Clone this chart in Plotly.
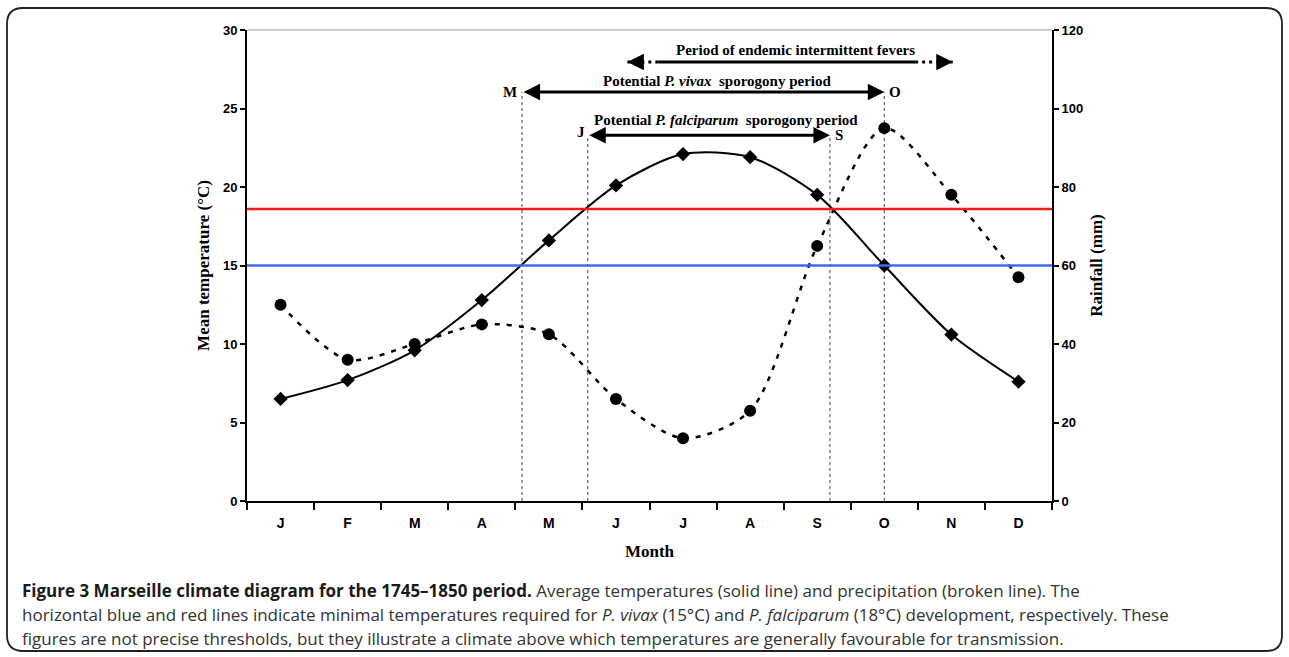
import plotly.graph_objects as go

# ---------------- data ----------------
months = ["J", "F", "M", "A", "M", "J", "J", "A", "S", "O", "N", "D"]
month_index = list(range(12))
temperature_c = [6.5, 7.7, 9.6, 12.8, 16.6, 20.1, 22.1, 21.9, 19.5, 15.0, 10.6, 7.6]
rainfall_mm = [50, 36, 40, 45, 42.5, 26, 16, 23, 65, 95, 78, 57]

vivax_threshold = 15.0
falciparum_threshold = 18.6

# period bounds, in month-index units (threshold crossings)
vivax_period = [3.6, 9.0]          # M ... O
falciparum_period = [4.58, 8.19]   # J ... S
fever_period_solid = [5.63, 9.46]
fever_period_full = [5.17, 10.02]

vivax_arrow_y = 26.05
falciparum_arrow_y = 23.3
fever_arrow_y = 27.96

# ---------------- geometry ----------------
W, H = 1289, 657
L, R, T, B = 247, 1052, 30, 501
pw, ph = R - L, B - T


def px(x):
    return (x - L) / pw


def py(y):
    return (B - y) / ph


fig = go.Figure()

# vertical dotted lines
for xv, top in [(vivax_period[0], vivax_arrow_y), (vivax_period[1], vivax_arrow_y),
                (falciparum_period[0], falciparum_arrow_y), (falciparum_period[1], falciparum_arrow_y)]:
    fig.add_trace(go.Scatter(x=[xv, xv], y=[0, top], mode="lines",
                             line=dict(color="#444", width=1, dash="dot"),
                             hoverinfo="skip", showlegend=False))

# temperature
fig.add_trace(go.Scatter(x=month_index, y=temperature_c, mode="lines+markers",
                         line=dict(color="black", width=2, shape="spline", smoothing=0.8),
                         marker=dict(symbol="diamond", size=11, color="black"),
                         name="Temperature", showlegend=False))

# rainfall
fig.add_trace(go.Scatter(x=month_index, y=rainfall_mm, mode="lines+markers", yaxis="y2",
                         line=dict(color="black", width=2.5, shape="spline", smoothing=0.8,
                                   dash="5px,7px"),
                         marker=dict(symbol="circle", size=12, color="black"),
                         name="Rainfall", showlegend=False))

# fevers arrow: dotted ends + solid middle
fig.add_trace(go.Scatter(x=[fever_period_full[0], fever_period_solid[0]],
                         y=[fever_arrow_y, fever_arrow_y], mode="lines",
                         line=dict(color="black", width=3, dash="3px,4px"),
                         hoverinfo="skip", showlegend=False))
fig.add_trace(go.Scatter(x=[fever_period_solid[1], fever_period_full[1]],
                         y=[fever_arrow_y, fever_arrow_y], mode="lines",
                         line=dict(color="black", width=3, dash="3px,4px"),
                         hoverinfo="skip", showlegend=False))
fig.add_trace(go.Scatter(x=fever_period_solid, y=[fever_arrow_y, fever_arrow_y], mode="lines",
                         line=dict(color="black", width=3),
                         hoverinfo="skip", showlegend=False))

# threshold lines
fig.add_shape(type="line", xref="paper", x0=0, x1=1, yref="y",
              y0=falciparum_threshold, y1=falciparum_threshold,
              line=dict(color="#ff1a1a", width=2.5))
fig.add_shape(type="line", xref="paper", x0=0, x1=1, yref="y",
              y0=vivax_threshold, y1=vivax_threshold,
              line=dict(color="#3a6cf0", width=2.5))
# top border of plot area (gray)
fig.add_shape(type="line", xref="paper", x0=0, x1=1, yref="paper", y0=1, y1=1,
              line=dict(color="#bbbbbb", width=1.5))

# outer rounded frame
x0, x1, y0, y1, r = px(7), px(1282), py(8), py(651), 16
rx, ry = r / pw, r / ph
path = (f"M {x0+rx},{y0} L {x1-rx},{y0} Q {x1},{y0} {x1},{y0-ry} "
        f"L {x1},{y1+ry} Q {x1},{y1} {x1-rx},{y1} L {x0+rx},{y1} "
        f"Q {x0},{y1} {x0},{y1+ry} L {x0},{y0-ry} Q {x0},{y0} {x0+rx},{y0} Z")
fig.add_shape(type="path", xref="paper", yref="paper", path=path,
              line=dict(color="#222", width=1.8))

serif = dict(family="Liberation Serif", size=15, color="black", weight="bold")
anns = []
# double arrows
for (a, b), yy in [(vivax_period, vivax_arrow_y), (falciparum_period, falciparum_arrow_y)]:
    anns.append(dict(x=b, y=yy, ax=a, ay=yy, xref="x", yref="y", axref="x", ayref="y",
                     showarrow=True, arrowhead=2, arrowside="end+start", arrowsize=1.1,
                     arrowwidth=3, arrowcolor="black", text="", standoff=0, startstandoff=0))
# fever arrowheads
anns.append(dict(x=fever_period_full[0], y=fever_arrow_y, ax=fever_period_full[0] + 0.2,
                 ay=fever_arrow_y, xref="x", yref="y", axref="x", ayref="y", showarrow=True,
                 arrowhead=2, arrowsize=1.1, arrowwidth=3, arrowcolor="black", text=""))
anns.append(dict(x=fever_period_full[1], y=fever_arrow_y, ax=fever_period_full[1] - 0.2,
                 ay=fever_arrow_y, xref="x", yref="y", axref="x", ayref="y", showarrow=True,
                 arrowhead=2, arrowsize=1.1, arrowwidth=3, arrowcolor="black", text=""))

# arrow labels
anns += [
    dict(x=(fever_period_full[0] + fever_period_full[1]) / 2 + 0.08, y=28.7, xref="x", yref="y",
         text="Period of endemic intermittent fevers", showarrow=False, font=serif),
    dict(x=(vivax_period[0] + vivax_period[1]) / 2 + 0.2, y=26.75, xref="x", yref="y",
         text="Potential <i>P. vivax</i>  sporogony period", showarrow=False, font=serif),
    dict(x=(falciparum_period[0] + falciparum_period[1]) / 2 + 0.25, y=24.25, xref="x", yref="y",
         text="Potential <i>P. falciparum</i>  sporogony period", showarrow=False, font=serif),
    dict(x=vivax_period[0], y=vivax_arrow_y, xref="x", yref="y", text="M", showarrow=False,
         xanchor="right", xshift=-3, font=serif),
    dict(x=vivax_period[1], y=vivax_arrow_y, xref="x", yref="y", text="O", showarrow=False,
         xanchor="left", xshift=3, font=serif),
    dict(x=falciparum_period[0], y=falciparum_arrow_y + 0.2, xref="x", yref="y", text="J",
         showarrow=False, xanchor="right", xshift=-1, font=serif),
    dict(x=falciparum_period[1], y=falciparum_arrow_y, xref="x", yref="y", text="S",
         showarrow=False, xanchor="left", xshift=3, font=serif),
]

# caption
cap_font = dict(family="Open Sans", size=17, color="#333")
anns += [
    dict(x=px(20), y=py(590), xref="paper", yref="paper", xanchor="left", yanchor="middle",
         showarrow=False, font=cap_font,
         text="<b><span style='color:#1a1a1a'>Figure 3 Marseille climate diagram for the 1745–1850 period.</span></b>"
              " Average temperatures (solid line) and precipitation (broken line). The"),
    dict(x=px(20), y=py(614), xref="paper", yref="paper", xanchor="left", yanchor="middle",
         showarrow=False, font=cap_font,
         text="horizontal blue and red lines indicate minimal temperatures required for <i>P. vivax</i> "
              "(15°C) and <i>P. falciparum</i> (18°C) development, respectively. These"),
    dict(x=px(20), y=py(638), xref="paper", yref="paper", xanchor="left", yanchor="middle",
         showarrow=False, font=cap_font,
         text="figures are not precise thresholds, but they illustrate a climate above which "
              "temperatures are generally favourable for transmission."),
]

tickfont = dict(family="Liberation Sans", size=13, color="black", weight="bold")
titlefont = dict(family="Liberation Serif", size=17, color="black", weight="bold")

fig.update_layout(
    width=W, height=H,
    margin=dict(l=L, r=W - R, t=T, b=H - B),
    paper_bgcolor="white", plot_bgcolor="white",
    showlegend=False,
    annotations=anns,
    xaxis=dict(range=[-0.5, 11.5], tickmode="array", tickvals=month_index, ticktext=months,
               ticks="", showgrid=False, zeroline=False, showline=True, linecolor="black",
               linewidth=2, tickfont=dict(family="Liberation Sans", size=14, color="black",
                                          weight="bold"),
               title=dict(text="Month", font=titlefont, standoff=15),
               minor=dict(tick0=-0.5, dtick=1, ticks="outside", ticklen=7, tickwidth=2,
                          tickcolor="black", showgrid=False),
               ticklabelstandoff=8),
    yaxis=dict(range=[0, 30], tickvals=[0, 5, 10, 15, 20, 25, 30], ticks="outside", ticklen=5,
               tickwidth=1.5, tickcolor="black", showgrid=False, zeroline=False, showline=True,
               linecolor="black", linewidth=2, tickfont=tickfont,
               title=dict(text="Mean temperature (°C)", font=titlefont, standoff=9)),
    yaxis2=dict(range=[0, 120], tickvals=[0, 20, 40, 60, 80, 100, 120], overlaying="y",
                side="right", ticks="outside", ticklen=5, tickwidth=1.5, tickcolor="black",
                showgrid=False, zeroline=False, showline=True, linecolor="black", linewidth=2,
                tickfont=tickfont,
                title=dict(text="Rainfall (mm)", font=titlefont, standoff=8)),
)

fig.write_html("out.html", config={"displayModeBar": False},
               post_script="document.body.style.margin='0';")
